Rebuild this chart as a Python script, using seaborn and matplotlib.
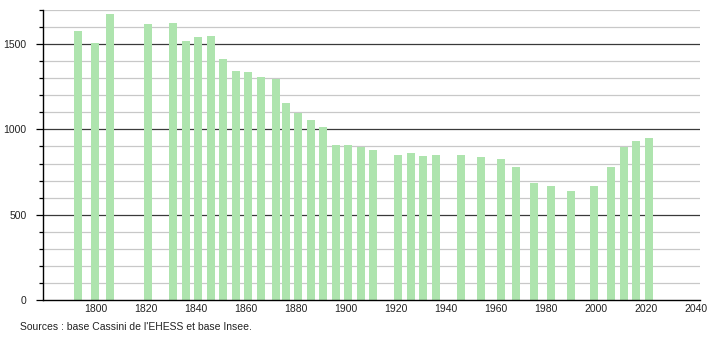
import matplotlib
matplotlib.use("Agg")
import matplotlib.pyplot as plt
from matplotlib.ticker import MultipleLocator
import seaborn as sns
import pandas as pd

years = [1793, 1800, 1806, 1821, 1831, 1836, 1841, 1846, 1851, 1856, 1861, 1866,
         1872, 1876, 1881, 1886, 1891, 1896, 1901, 1906, 1911, 1921, 1926, 1931,
         1936, 1946, 1954, 1962, 1968, 1975, 1982, 1990, 1999, 2006, 2011, 2016, 2021]
population = [1577, 1507, 1676, 1618, 1625, 1517, 1540, 1547, 1413, 1344, 1339, 1305,
              1296, 1157, 1097, 1053, 1016, 907, 907, 896, 882, 850, 864, 842,
              851, 851, 841, 824, 780, 686, 671, 641, 671, 778, 898, 935, 947]
x_ticks = [1800, 1820, 1840, 1860, 1880, 1900, 1920, 1940, 1960, 1980, 2000, 2020, 2040]
y_ticks = [0, 500, 1000, 1500]
source_text = "Sources : base Cassini de l'EHESS et base Insee."

df = pd.DataFrame({"year": years, "pop": population})

sns.set_style("white")
plt.rcParams["font.family"] = ["Liberation Sans", "DejaVu Sans"]

fig = plt.figure(figsize=(7.1, 3.4), dpi=100)
ax = fig.add_axes([43 / 710, 1 - 300 / 340, (700 - 43) / 710, 290 / 340])

sns.barplot(data=df, x="year", y="pop", native_scale=True, color="#aee4ae",
            saturation=1, width=0.8, linewidth=0, ax=ax, zorder=3)

ax.set_xlim(1779.1, 2041.4)
ax.set_ylim(0, 1700)
ax.set_xticks(x_ticks)
ax.set_xticklabels([str(t) for t in x_ticks])
ax.set_yticks(y_ticks)
ax.set_yticklabels([str(t) for t in y_ticks])
ax.yaxis.set_minor_locator(MultipleLocator(100))

ax.grid(False)
for v in range(100, 1701, 100):
    if v % 500 == 0:
        ax.axhline(v, color="#3a3a3a", lw=0.9, zorder=1)
    else:
        ax.axhline(v, color="#c8c8c8", lw=0.9, zorder=1)

for s in ["top", "right"]:
    ax.spines[s].set_visible(False)
for s in ["left", "bottom"]:
    ax.spines[s].set_color("black")
    ax.spines[s].set_linewidth(1.0)
    ax.spines[s].set_zorder(5)

ax.tick_params(axis="y", which="major", direction="out", length=5, width=0.9,
               color="black", left=True, labelsize=7.5, labelcolor="#222222", pad=7)
ax.tick_params(axis="y", which="minor", direction="out", length=3, width=0.9,
               color="black", left=True)
ax.tick_params(axis="x", which="both", length=0, labelsize=7.5,
               labelcolor="#222222", pad=3)

ax.set_xlabel("")
ax.set_ylabel("")

fig.text(20 / 710, 1 - 327 / 340, source_text, fontsize=7.5, color="#222222",
         ha="left", va="center")

fig.savefig("out.png", dpi=100)
